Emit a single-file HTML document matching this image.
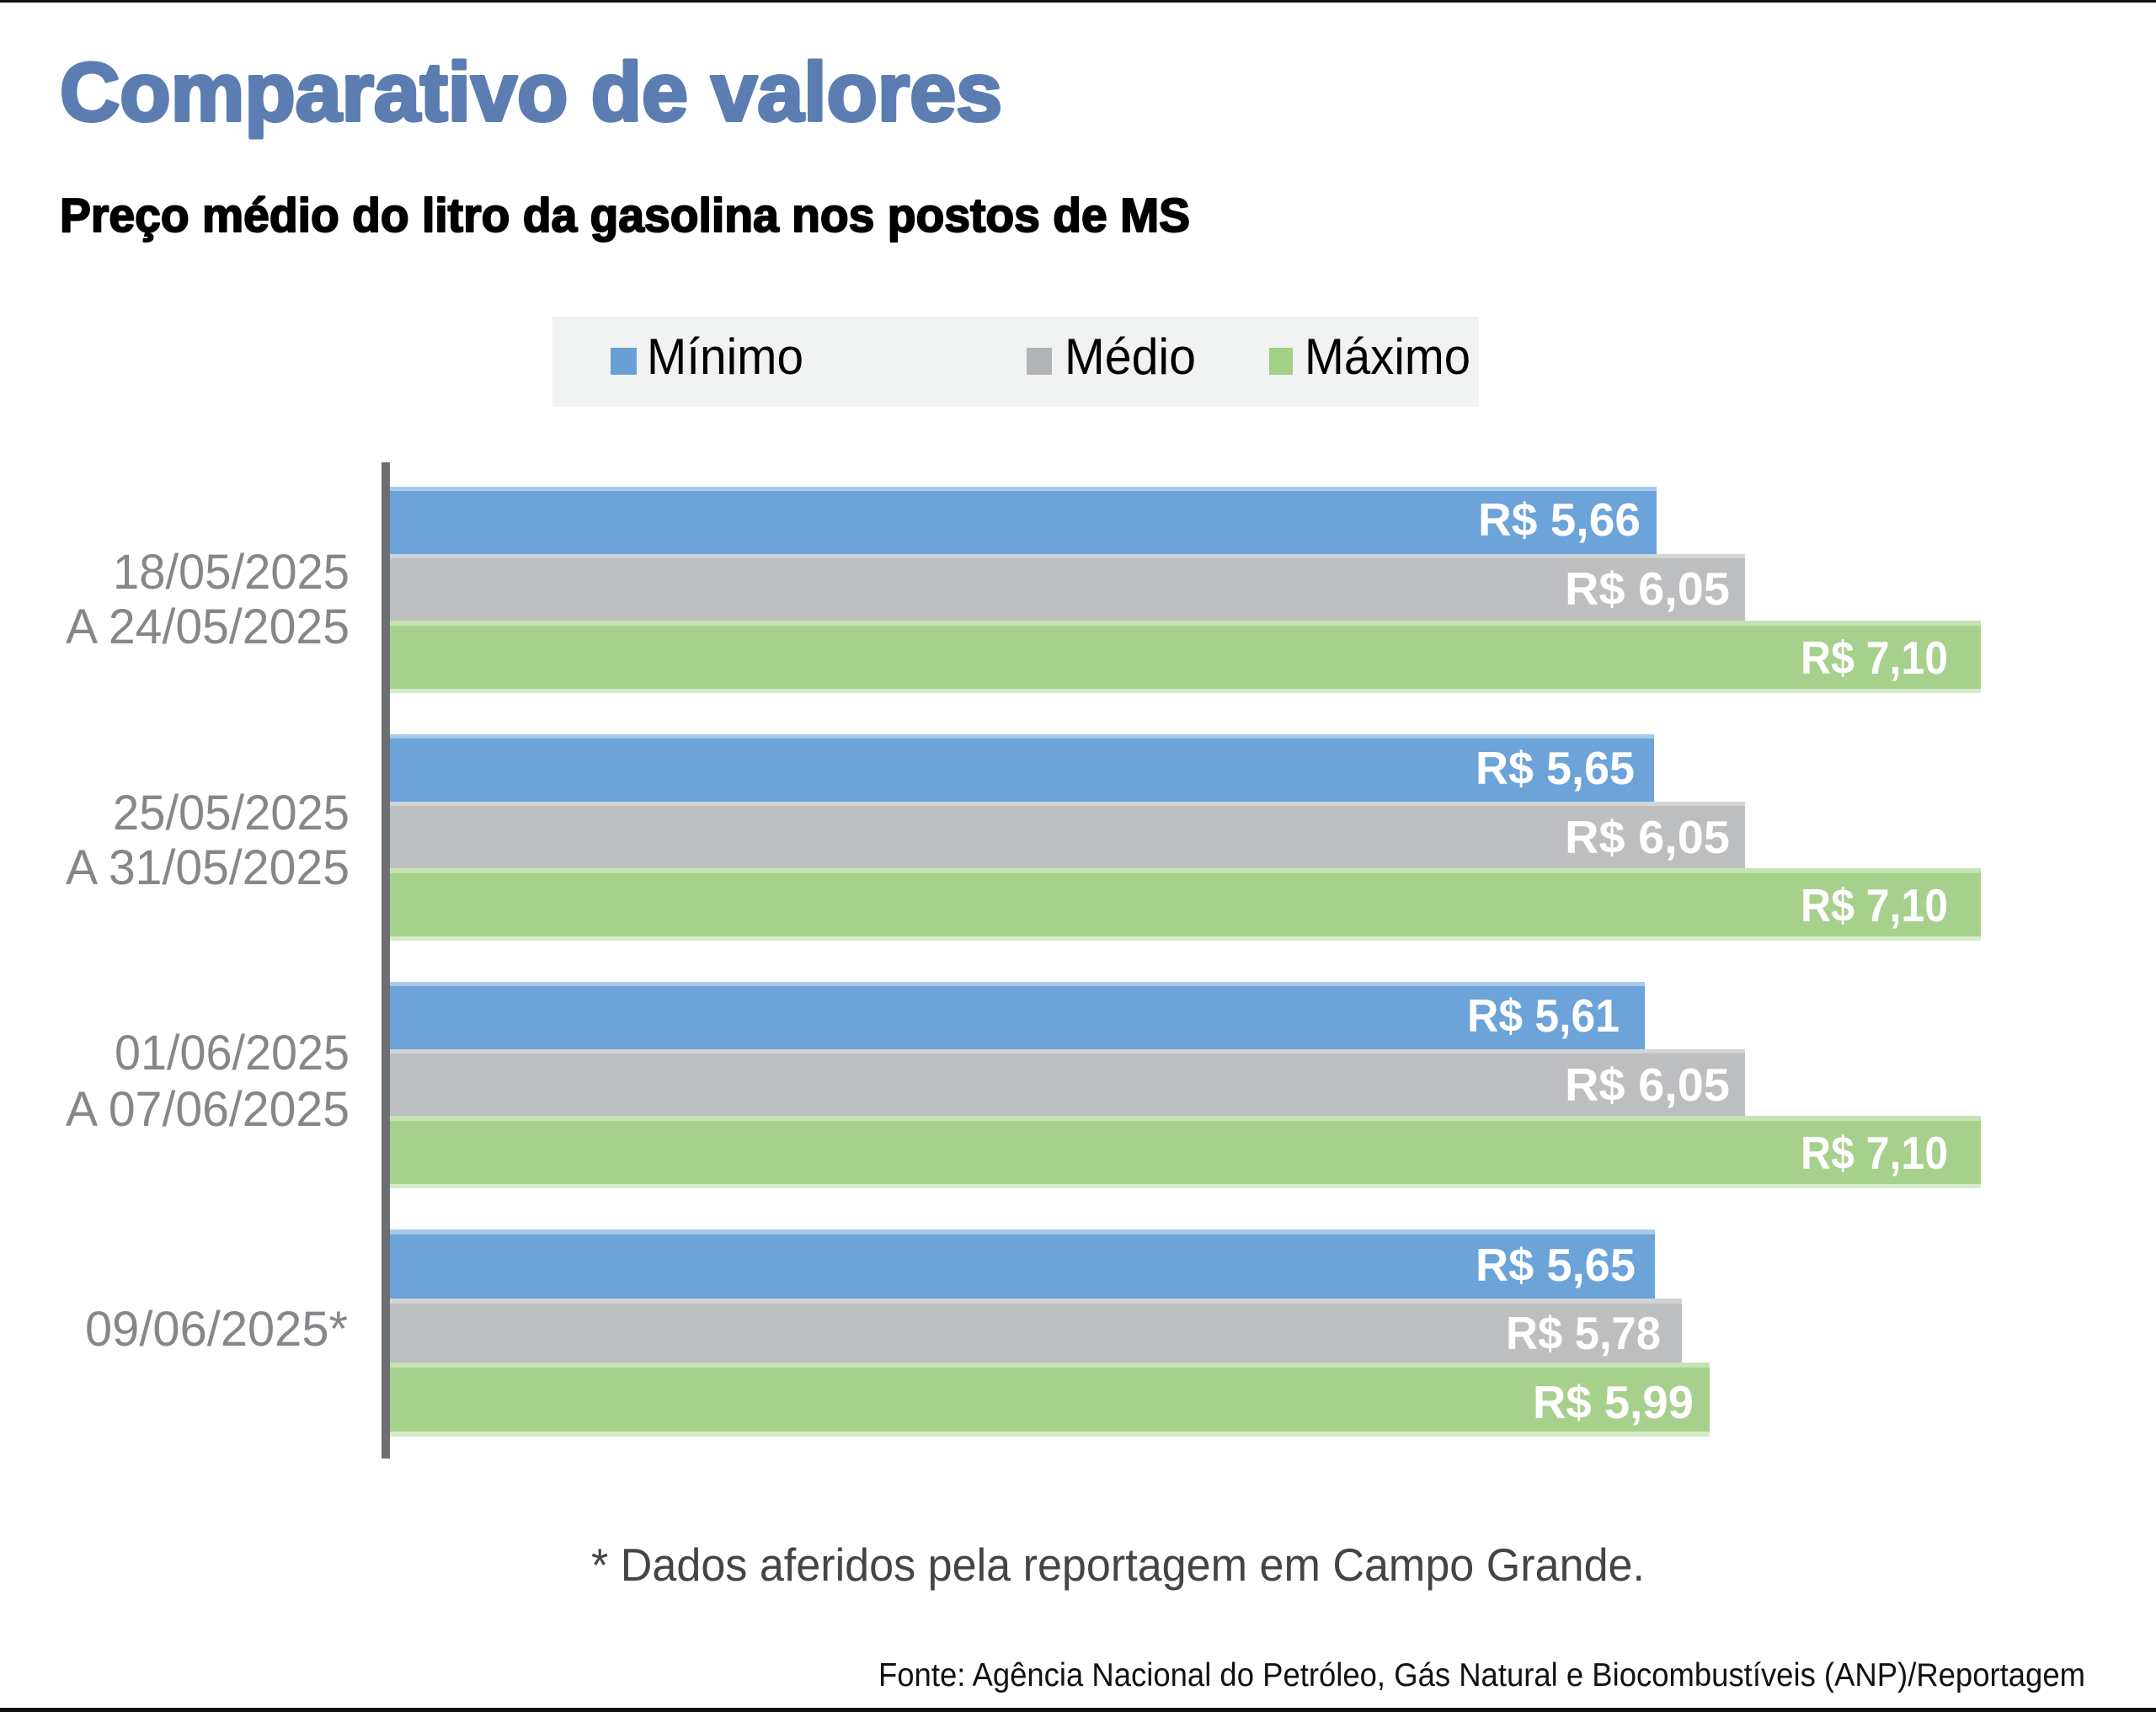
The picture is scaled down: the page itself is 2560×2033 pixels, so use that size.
<!DOCTYPE html>
<html><head><meta charset="utf-8"><style>
html,body{margin:0;padding:0;background:#fff;}
svg{display:block;}
</style></head><body>
<svg width="2560" height="2033" viewBox="0 0 2560 2033" xmlns="http://www.w3.org/2000/svg">
<rect x="0" y="0" width="2560" height="2033" fill="#ffffff"/>
<rect x="0" y="0" width="2560" height="3" fill="#111"/>
<rect x="0" y="2028" width="2560" height="5" fill="#111"/>

<text x="71" y="143" font-family="Liberation Sans, sans-serif" font-weight="bold" font-size="98" fill="#5b7db1" stroke="#5b7db1" stroke-width="4" stroke-linejoin="round" textLength="1119" lengthAdjust="spacingAndGlyphs">Comparativo de valores</text>
<text x="71" y="275" font-family="Liberation Sans, sans-serif" font-weight="bold" font-size="57" fill="#000" stroke="#000" stroke-width="2" stroke-linejoin="round" textLength="1342" lengthAdjust="spacingAndGlyphs">Preço médio do litro da gasolina nos postos de MS</text>

<!-- legend -->
<rect x="656" y="376" width="1100" height="107" fill="#f1f2f2"/>
<rect x="725" y="413" width="31" height="32" fill="#6a9fd4"/>
<text x="768" y="444" font-family="Liberation Sans, sans-serif" font-size="60" fill="#000" textLength="186" lengthAdjust="spacingAndGlyphs">Mínimo</text>
<rect x="1219" y="413" width="30" height="32" fill="#b1b3b6"/>
<text x="1264" y="444" font-family="Liberation Sans, sans-serif" font-size="60" fill="#000" textLength="156" lengthAdjust="spacingAndGlyphs">Médio</text>
<rect x="1507" y="413" width="28" height="32" fill="#a3cf87"/>
<text x="1549" y="444" font-family="Liberation Sans, sans-serif" font-size="60" fill="#000" textLength="197" lengthAdjust="spacingAndGlyphs">Máximo</text>

<!-- bars group 1 L=578 -->
<g>
<rect x="463" y="578" width="1504" height="80" fill="#6ca3d8"/><rect x="463" y="578" width="1504" height="5" fill="#a9c9ea"/>
<rect x="463" y="658" width="1609" height="79" fill="#bdbec0"/><rect x="463" y="658" width="1609" height="5" fill="#d3d4d6"/>
<rect x="463" y="737" width="1889" height="81" fill="#a8d08d"/><rect x="463" y="737" width="1889" height="6" fill="#c6e2b3"/>
<rect x="463" y="818" width="1889" height="5" fill="#d7ebca"/>
</g>
<!-- group 2 L=872 -->
<g>
<rect x="463" y="872" width="1501" height="80" fill="#6ca3d8"/><rect x="463" y="872" width="1501" height="5" fill="#a9c9ea"/>
<rect x="463" y="952" width="1609" height="79" fill="#bdbec0"/><rect x="463" y="952" width="1609" height="5" fill="#d3d4d6"/>
<rect x="463" y="1031" width="1889" height="81" fill="#a8d08d"/><rect x="463" y="1031" width="1889" height="6" fill="#c6e2b3"/>
<rect x="463" y="1112" width="1889" height="5" fill="#d7ebca"/>
</g>
<!-- group 3 L=1166 -->
<g>
<rect x="463" y="1166" width="1490" height="80" fill="#6ca3d8"/><rect x="463" y="1166" width="1490" height="5" fill="#a9c9ea"/>
<rect x="463" y="1246" width="1609" height="79" fill="#bdbec0"/><rect x="463" y="1246" width="1609" height="5" fill="#d3d4d6"/>
<rect x="463" y="1325" width="1889" height="81" fill="#a8d08d"/><rect x="463" y="1325" width="1889" height="6" fill="#c6e2b3"/>
<rect x="463" y="1406" width="1889" height="5" fill="#d7ebca"/>
</g>
<!-- group 4 L=1460 -->
<g>
<rect x="463" y="1460" width="1502" height="82" fill="#6ca3d8"/><rect x="463" y="1460" width="1502" height="6" fill="#a9c9ea"/>
<rect x="463" y="1542" width="1534" height="76" fill="#bdbec0"/><rect x="463" y="1542" width="1534" height="6" fill="#d3d4d6"/>
<rect x="463" y="1618" width="1567" height="82" fill="#a8d08d"/><rect x="463" y="1618" width="1567" height="6" fill="#c6e2b3"/>
<rect x="463" y="1700" width="1567" height="6" fill="#d7ebca"/>
</g>

<!-- axis -->
<rect x="453" y="549" width="10" height="1183" fill="#6d6e71"/>

<!-- value labels -->
<g font-family="Liberation Sans, sans-serif" font-weight="bold" font-size="55" fill="#ffffff">
<text x="1755" y="636" textLength="193" lengthAdjust="spacingAndGlyphs">R$ 5,66</text>
<text x="1858" y="718" textLength="196" lengthAdjust="spacingAndGlyphs">R$ 6,05</text>
<text x="2138" y="800" textLength="175" lengthAdjust="spacingAndGlyphs">R$ 7,10</text>

<text x="1752" y="931" textLength="189" lengthAdjust="spacingAndGlyphs">R$ 5,65</text>
<text x="1858" y="1013" textLength="196" lengthAdjust="spacingAndGlyphs">R$ 6,05</text>
<text x="2138" y="1094" textLength="175" lengthAdjust="spacingAndGlyphs">R$ 7,10</text>

<text x="1742" y="1225" textLength="181" lengthAdjust="spacingAndGlyphs">R$ 5,61</text>
<text x="1858" y="1307" textLength="196" lengthAdjust="spacingAndGlyphs">R$ 6,05</text>
<text x="2138" y="1388" textLength="175" lengthAdjust="spacingAndGlyphs">R$ 7,10</text>

<text x="1752" y="1521" textLength="190" lengthAdjust="spacingAndGlyphs">R$ 5,65</text>
<text x="1788" y="1602" textLength="184" lengthAdjust="spacingAndGlyphs">R$ 5,78</text>
<text x="1820" y="1684" textLength="191" lengthAdjust="spacingAndGlyphs">R$ 5,99</text>
</g>

<!-- category labels -->
<g font-family="Liberation Sans, sans-serif" font-size="58" fill="#85878a">
<text x="134" y="699" textLength="281" lengthAdjust="spacingAndGlyphs">18/05/2025</text>
<text x="78" y="764" textLength="337" lengthAdjust="spacingAndGlyphs">A 24/05/2025</text>
<text x="134" y="985" textLength="281" lengthAdjust="spacingAndGlyphs">25/05/2025</text>
<text x="78" y="1050" textLength="337" lengthAdjust="spacingAndGlyphs">A 31/05/2025</text>
<text x="136" y="1270" textLength="279" lengthAdjust="spacingAndGlyphs">01/06/2025</text>
<text x="78" y="1337" textLength="337" lengthAdjust="spacingAndGlyphs">A 07/06/2025</text>
<text x="101" y="1598" textLength="312" lengthAdjust="spacingAndGlyphs">09/06/2025*</text>
</g>

<text x="702" y="1877" font-family="Liberation Sans, sans-serif" font-size="55" fill="#444444" textLength="1251" lengthAdjust="spacingAndGlyphs">* Dados aferidos pela reportagem em Campo Grande.</text>
<text x="1043" y="2002" font-family="Liberation Sans, sans-serif" font-size="39" fill="#111111" textLength="1433" lengthAdjust="spacingAndGlyphs">Fonte: Agência Nacional do Petróleo, Gás Natural e Biocombustíveis (ANP)/Reportagem</text>
</svg>
</body></html>
